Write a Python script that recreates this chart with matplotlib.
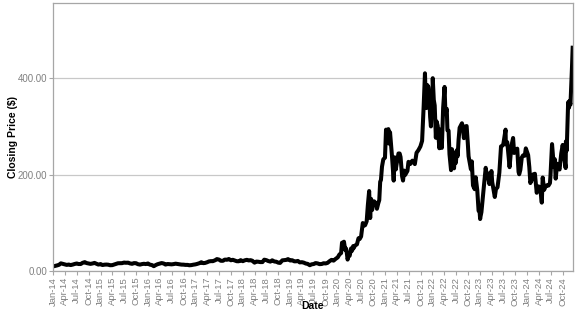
import matplotlib
matplotlib.use("Agg")
import matplotlib.pyplot as plt
import matplotlib.dates as mdates
import matplotlib.ticker as mticker
import pandas as pd
import numpy as np

# Semi-monthly closing prices (1st and 15th of each month), 2014-2019
early_values = [
    # 2014
    10.0, 10.9, 12.1, 13.3, 16.3, 15.3, 14.1, 13.1, 13.8, 12.7, 13.8, 15.0,
    16.0, 14.9, 14.9, 17.3, 18.8, 16.9, 16.1, 15.2, 16.1, 17.2, 15.4, 13.7,
    # 2015
    14.8, 12.8, 13.6, 13.8, 13.5, 12.4, 12.6, 13.8, 15.1, 16.5, 16.7, 16.7,
    17.9, 17.5, 17.7, 16.2, 15.3, 16.8, 16.6, 14.6, 13.7, 14.7, 15.4, 14.8,
    # 2016
    16.0, 13.7, 12.7, 10.4, 12.8, 14.5, 15.9, 16.9, 16.0, 13.8, 14.9, 14.6,
    14.2, 14.7, 15.6, 15.0, 14.2, 13.7, 13.6, 13.1, 13.1, 12.3, 12.7, 13.5,
    # 2017
    14.2, 15.2, 16.7, 18.6, 16.7, 17.1, 18.6, 20.3, 20.9, 20.8, 22.7, 25.1,
    24.1, 21.6, 21.6, 24.1, 23.7, 25.3, 22.7, 23.7, 22.1, 20.7, 20.6, 22.9,
    # 2018
    20.8, 22.5, 23.6, 22.3, 22.9, 21.7, 17.7, 20.0, 19.6, 18.9, 18.9, 23.9,
    22.9, 21.2, 19.9, 22.6, 20.1, 19.7, 17.7, 17.2, 22.5, 23.0, 23.4, 25.1,
    # 2019
    22.2, 22.9, 20.5, 20.5, 21.3, 18.3, 18.7, 17.8, 15.9, 15.2, 12.4, 14.3,
    14.9, 16.9, 16.1, 14.6, 15.0, 16.5, 16.1, 17.2, 21.0, 23.5, 21.9, 25.2,
]

late_dates = [
    "2020-01-02", "2020-01-15", "2020-01-28", "2020-02-04", "2020-02-10", "2020-02-19",
    "2020-02-28", "2020-03-06", "2020-03-12", "2020-03-18", "2020-03-27", "2020-04-03",
    "2020-04-14", "2020-04-21", "2020-04-30", "2020-05-01", "2020-05-15", "2020-05-29",
    "2020-06-10", "2020-06-19", "2020-06-30", "2020-07-13", "2020-07-24", "2020-07-31",
    "2020-08-12", "2020-08-21", "2020-08-31", "2020-09-08", "2020-09-15", "2020-09-23",
    "2020-09-30", "2020-10-09", "2020-10-23", "2020-10-30", "2020-11-09", "2020-11-17",
    "2020-11-24", "2020-11-30", "2020-12-08", "2020-12-18", "2020-12-31",
    "2021-01-08", "2021-01-15", "2021-01-26", "2021-01-29", "2021-02-08", "2021-02-23",
    "2021-03-05", "2021-03-08", "2021-03-15", "2021-03-24", "2021-03-31", "2021-04-14",
    "2021-04-23", "2021-04-30", "2021-05-12", "2021-05-19", "2021-05-28", "2021-06-04",
    "2021-06-22", "2021-06-30", "2021-07-13", "2021-07-30", "2021-08-18", "2021-08-31",
    "2021-09-15", "2021-09-30", "2021-10-13", "2021-10-25", "2021-10-29", "2021-11-04",
    "2021-11-10", "2021-11-15", "2021-11-22", "2021-11-30", "2021-12-08", "2021-12-14",
    "2021-12-20", "2021-12-27", "2021-12-31",
    "2022-01-03", "2022-01-11", "2022-01-18", "2022-01-27", "2022-02-01", "2022-02-10",
    "2022-02-23", "2022-03-02", "2022-03-14", "2022-03-24", "2022-04-04", "2022-04-11",
    "2022-04-21", "2022-04-26", "2022-05-05", "2022-05-12", "2022-05-24", "2022-05-31",
    "2022-06-16", "2022-06-24", "2022-06-30", "2022-07-08", "2022-07-14", "2022-07-21",
    "2022-07-29", "2022-08-16", "2022-08-23", "2022-08-31", "2022-09-09", "2022-09-21",
    "2022-09-30", "2022-10-06", "2022-10-24", "2022-10-31", "2022-11-09", "2022-11-22",
    "2022-11-30", "2022-12-12", "2022-12-22", "2022-12-30",
    "2023-01-03", "2023-01-06", "2023-01-13", "2023-01-26", "2023-01-31", "2023-02-15",
    "2023-02-24", "2023-03-01", "2023-03-15", "2023-03-24", "2023-03-31", "2023-04-06",
    "2023-04-20", "2023-04-26", "2023-05-05", "2023-05-17", "2023-05-31", "2023-06-13",
    "2023-06-21", "2023-06-30", "2023-07-18", "2023-07-20", "2023-07-31", "2023-08-18",
    "2023-08-31", "2023-09-14", "2023-09-22", "2023-09-29", "2023-10-16", "2023-10-26",
    "2023-10-31", "2023-11-09", "2023-11-20", "2023-11-30", "2023-12-13", "2023-12-21",
    "2023-12-29",
    "2024-01-08", "2024-01-17", "2024-01-25", "2024-01-31", "2024-02-08", "2024-02-15",
    "2024-02-29", "2024-03-14", "2024-03-22", "2024-03-28", "2024-04-10", "2024-04-22",
    "2024-04-29", "2024-05-10", "2024-05-20", "2024-05-31", "2024-06-12", "2024-06-24",
    "2024-06-28", "2024-07-10", "2024-07-24", "2024-07-31", "2024-08-07", "2024-08-19",
    "2024-08-30", "2024-09-06", "2024-09-19", "2024-09-30", "2024-10-10", "2024-10-23",
    "2024-10-25", "2024-10-31", "2024-11-11", "2024-11-18", "2024-11-22", "2024-11-29",
    "2024-12-06", "2024-12-11", "2024-12-16",
]
late_values = [
    28.7, 34.6, 37.6, 59.1, 51.8, 61.2,
    44.5, 47.0, 37.6, 24.1, 34.3, 32.1,
    47.3, 42.4, 52.1, 47.0, 53.2, 55.7,
    68.3, 66.7, 72.0, 99.8, 94.5, 95.4,
    103.6, 136.7, 166.1, 110.1, 149.8, 126.8,
    143.0, 144.7, 140.1, 129.3, 140.4, 147.4,
    185.1, 189.2, 216.6, 231.7, 235.2,
    293.3, 275.6, 294.4, 264.5, 287.8, 238.2,
    199.3, 187.7, 236.0, 210.7, 222.6, 243.9,
    243.9, 236.5, 196.6, 187.8, 208.4, 199.3,
    207.8, 226.6, 221.9, 229.1, 221.9, 245.2,
    251.0, 258.5, 270.0, 341.6, 371.3, 410.0,
    356.0, 338.0, 385.6, 381.6, 356.3, 319.5,
    300.0, 364.6, 352.3,
    399.9, 354.8, 343.5, 276.4, 310.4, 301.5,
    254.7, 293.3, 255.5, 338.0, 381.8, 325.3,
    336.3, 292.1, 291.1, 242.5, 209.4, 252.8,
    213.1, 245.7, 224.5, 250.7, 238.3, 272.2,
    297.1, 306.5, 296.5, 275.6, 299.7, 300.8,
    265.3, 238.1, 211.2, 227.5, 177.6, 169.9,
    194.7, 167.8, 125.4, 123.2,
    108.1, 113.1, 122.4, 160.3, 173.2, 214.2,
    196.9, 202.8, 180.5, 190.4, 207.5, 185.0,
    163.0, 153.8, 170.1, 173.9, 203.9, 258.7,
    259.5, 261.8, 293.3, 262.9, 267.4, 215.5,
    258.1, 276.0, 244.9, 250.2, 253.9, 205.8,
    200.8, 210.0, 235.6, 240.1, 239.3, 254.5,
    248.5,
    240.5, 215.6, 182.6, 187.3, 189.6, 200.5,
    201.9, 162.5, 170.8, 175.8, 171.8, 142.1,
    194.1, 168.5, 175.0, 178.1, 177.3, 182.6,
    197.9, 263.3, 216.0, 232.1, 191.8, 222.7,
    214.1, 210.7, 243.9, 261.6, 238.8, 213.7,
    269.2, 249.9, 350.0, 338.7, 352.6, 345.2,
    389.2, 424.8, 463.0,
]

y_ticks = [0, 200, 400]

early_dates = pd.date_range("2014-01-01", periods=len(early_values), freq="SMS")
dates = list(early_dates) + list(pd.to_datetime(late_dates))
values = early_values + late_values

plt.rcParams['font.family'] = ['Liberation Sans', 'DejaVu Sans']

fig = plt.figure(figsize=(5.77, 3.15), dpi=100)
ax = fig.add_axes([0.092, 0.139, 0.9005, 0.8505])

ax.plot(dates, values, color="black", lw=2.9, solid_joinstyle="round")

ax.set_ylim(0, 555)
ax.set_xlim(pd.Timestamp("2013-12-31"), pd.Timestamp("2024-12-16"))
ax.set_yticks(y_ticks)
ax.yaxis.set_major_formatter(mticker.FuncFormatter(lambda v, p: f"{v:.2f}"))
ax.xaxis.set_major_locator(mdates.MonthLocator(bymonth=[1, 4, 7, 10]))
ax.xaxis.set_major_formatter(mdates.DateFormatter("%b-%y"))
for lab in ax.get_xticklabels():
    lab.set_rotation(90)

ax.grid(axis="y", color="#c8c8c8", lw=0.9)
ax.set_axisbelow(True)
for s in ax.spines.values():
    s.set_color("#a6a6a6")
    s.set_linewidth(0.9)
ax.tick_params(axis="both", colors="#a6a6a6", labelcolor="#808080", length=3, width=0.8, pad=1)
ax.tick_params(axis="y", labelsize=7)
ax.tick_params(axis="x", labelsize=6.8)

ax.set_ylabel("Closing Price ($)", fontsize=7.5, fontweight="bold", va="center")
ax.yaxis.set_label_coords(-0.077, 0.5)
ax.set_xlabel("Date", fontsize=7.5, fontweight="bold", va="top")
ax.xaxis.set_label_coords(0.5, -0.112)

fig.savefig("out.png", dpi=100)
